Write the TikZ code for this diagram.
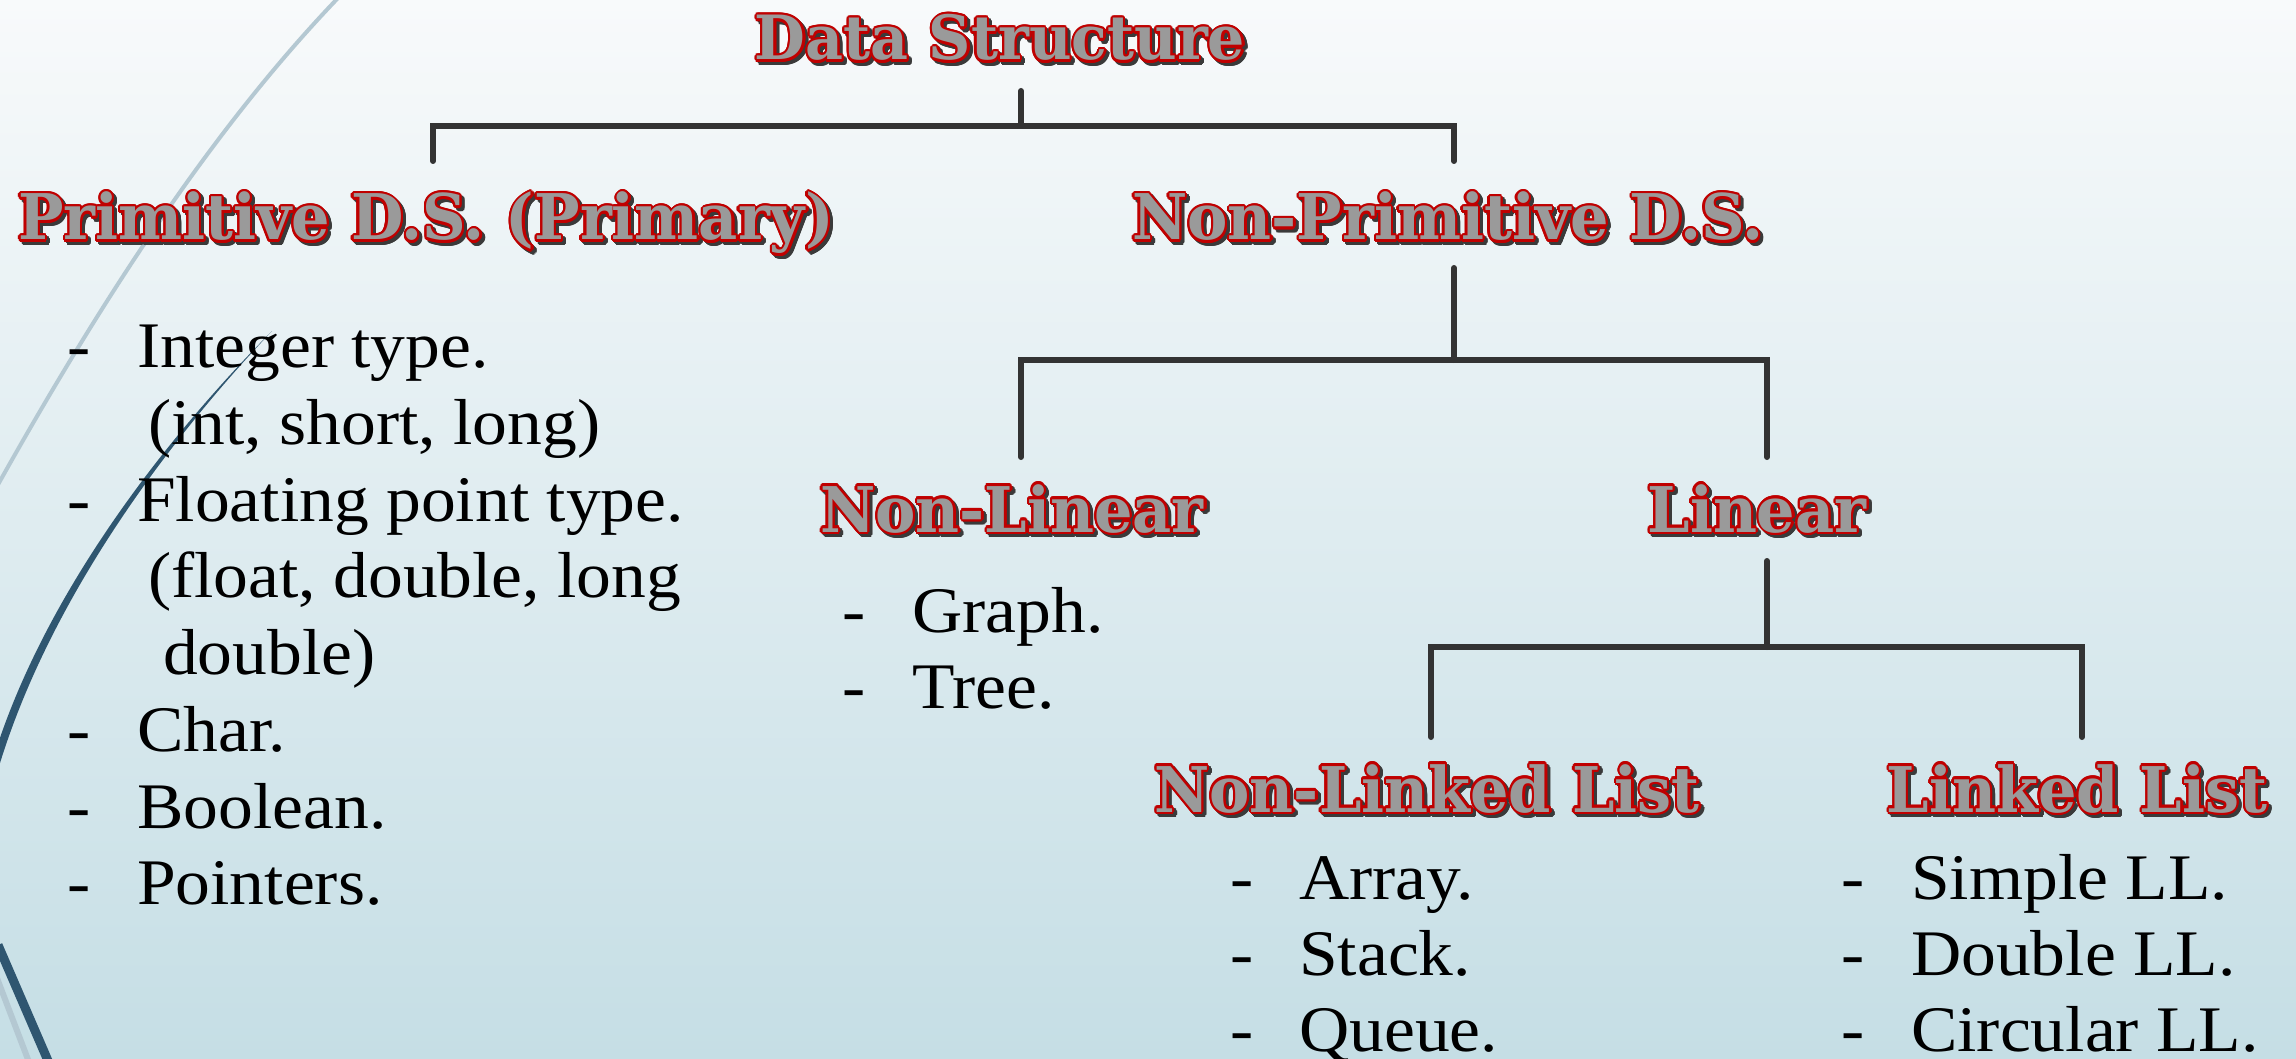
\documentclass[tikz,border=0pt]{standalone}
\usepackage{fontspec}
\usepackage[copies]{contour}
\newfontfamily\headfont{DejaVu Serif}[FakeStretch=0.96]
\newfontfamily\bodyfam{Liberation Serif}[FakeStretch=1.07]
\newcommand\bodyfont{\bodyfam\fontsize{65}{77}\selectfont}
\contourlength{2.3pt}

\definecolor{bgtop}{HTML}{F8FAFB}
\definecolor{bgmid}{HTML}{DCEAEF}
\definecolor{bgbot}{HTML}{C5DEE5}
\definecolor{linkgray}{HTML}{333333}
\definecolor{headred}{HTML}{C00000}
\definecolor{headgray}{HTML}{9A9A9A}
\definecolor{shadowgray}{HTML}{3A3A3A}
\definecolor{swdark}{HTML}{2F5670}
\definecolor{swlight}{HTML}{B4C8D2}

\tikzset{
  head/.style={font=\headfont\bfseries\fontsize{63}{66}\selectfont, inner sep=0pt, anchor=base},
  link/.style={line width=6pt, draw=linkgray, line cap=round, line join=miter},
  item/.style={font=\bodyfont, inner sep=0pt, anchor=base west},
}

% heading with drop shadow: [extra style], name, x, y, text
\newcommand\heading[5][]{%
  \node[head, #1, xshift=3pt, yshift=-3pt] (#2-sh) at (#3,#4) {\contour{shadowgray}{\textcolor{shadowgray}{#5}}};
  \node[head, #1] (#2) at (#3,#4) {\contour{headred}{\textcolor{headgray}{#5}}};}

\begin{document}
\begin{tikzpicture}[x=1pt, y=-1pt]
    \useasboundingbox (0,0) rectangle (2296,1059);
    \clip (0,0) rectangle (2296,1059);
    \shade[top color=bgtop, middle color=bgmid, bottom color=bgbot] (0,0) rectangle (2296,1059);

    % swooshes on the left
    \draw[swlight, line width=4pt] (338,-2) .. controls (250,90) and (140,230) .. (-5,490);
    \fill[swdark] (272,331) .. controls (150,460) and (40,620) .. (-5,780)
        -- (-13,780) .. controls (30,620) and (146,458) .. (272,331) -- cycle;
    \draw[swlight, line width=6pt] (-8,965) -- (32,1070);
    \draw[swdark, line width=9pt] (-2,945) -- (52,1070);

    % headings
    \heading[font=\headfont\bfseries\fontsize{61}{64}\selectfont]{ds}{1000}{60}{Data Structure}
    \heading{prim}{426}{240}{Primitive D.S. (Primary)}
    \heading{nonprim}{1448}{240}{Non-Primitive D.S.}
    \heading{nonlin}{1012}{532}{Non-Linear}
    \heading{lin}{1757}{532}{Linear}
    \heading{nll}{1427}{812}{Non-Linked List}
    \heading{ll}{2077}{812}{Linked List}

    % connectors
    \coordinate (ds-b) at (1021,91);
    \coordinate (ds-j) at (1021,126);
    \coordinate (prim-t) at (433,161);
    \coordinate (nonprim-t) at (1454,161);
    \coordinate (nonprim-b) at (1454,268);
    \coordinate (nonprim-j) at (1454,360);
    \coordinate (nonlin-t) at (1021,457);
    \coordinate (lin-t) at (1767,457);
    \coordinate (lin-b) at (1767,561);
    \coordinate (lin-j) at (1767,647);
    \coordinate (nll-t) at (1431,737);
    \coordinate (ll-t) at (2082,737);
    \draw[link] (ds-b) -- (ds-j);
    \draw[link] (prim-t) |- (ds-j) -| (nonprim-t);
    \draw[link] (nonprim-b) -- (nonprim-j);
    \draw[link] (nonlin-t) |- (nonprim-j) -| (lin-t);
    \draw[link] (lin-b) -- (lin-j);
    \draw[link] (nll-t) |- (lin-j) -| (ll-t);

    % primitive types
    \foreach \y/\t in {367/Integer type., 521/Floating point type., 751/Char., 828/Boolean., 904/Pointers.}
    {\node[item] (pd-\y) at (67,\y) {-}; \node[item] (pt-\y) at (137,\y) {\t};}
    \node[item] (pt-444) at (148,444) {(int, short, long)};
    \node[item] (pt-597) at (148,597) {(float, double, long};
    \node[item] (pt-674) at (163,674) {double)};

    % non-linear
    \foreach \y/\t in {632/Graph., 708/Tree.}
    {\node[item] (nd-\y) at (842,\y) {-}; \node[item] (nt-\y) at (912,\y) {\t};}

    % non-linked list
    \foreach \y/\t in {899/Array., 975/Stack., 1051/Queue.}
    {\node[item] (ad-\y) at (1230,\y) {-}; \node[item] (at-\y) at (1299,\y) {\t};}

    % linked list
    \foreach \y/\t in {899/Simple LL., 975/Double LL., 1051/Circular LL.}
    {\node[item] (ld-\y) at (1841,\y) {-}; \node[item] (lt-\y) at (1911,\y) {\t};}
\end{tikzpicture}
\end{document}
